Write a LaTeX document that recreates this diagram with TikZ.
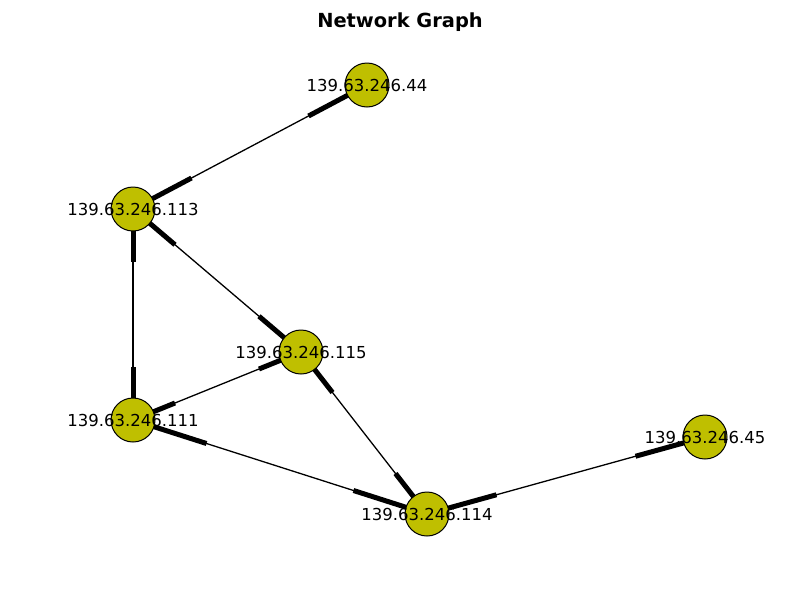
\documentclass[tikz,border=0pt]{standalone}
\usepackage{fontspec}
\setmainfont{DejaVu Sans}
\usetikzlibrary{calc,backgrounds}
\definecolor{hostfill}{RGB}{191,191,0}
\tikzset{
  host/.style={circle, draw=black, line width=1pt, fill=hostfill,
    minimum size=44pt, inner sep=0pt},
  hostlabel/.style={font=\fontsize{16.5pt}{18pt}\selectfont, inner sep=0pt},
  link/.style={draw=black, line width=1.3pt},
  linkend/.style={draw=black, line width=5pt},
}
% one undirected connection, heavy near both ends
\newcommand{\hostlink}[2]{%
  \draw[link] (#1.center) -- (#2.center);
  \draw[linkend] (#1.center) -- ($(#1.center)!0.25!(#2.center)$);
  \draw[linkend] (#2.center) -- ($(#2.center)!0.25!(#1.center)$);
}
\begin{document}
\begin{tikzpicture}[x=1pt,y=-1pt]
  \useasboundingbox (0,0) rectangle (800,600);
  \node[font=\fontsize{19.4pt}{22pt}\selectfont\bfseries] (title) at (400,22) {Network Graph};

  \node[host] (h44)  at (367,85)  {};
  \node[host] (h113) at (133,209) {};
  \node[host] (h115) at (301,352) {};
  \node[host] (h111) at (133,420) {};
  \node[host] (h114) at (427,514) {};
  \node[host] (h45)  at (705,437) {};

  \begin{scope}[on background layer]
    \hostlink{h113}{h44}
    \hostlink{h113}{h115}
    \hostlink{h113}{h111}
    \hostlink{h111}{h115}
    \hostlink{h115}{h114}
    \hostlink{h111}{h114}
    \hostlink{h114}{h45}
  \end{scope}

  \node[hostlabel] (l44)  at (h44)  {139.63.246.44};
  \node[hostlabel] (l113) at (h113) {139.63.246.113};
  \node[hostlabel] (l115) at (h115) {139.63.246.115};
  \node[hostlabel] (l111) at (h111) {139.63.246.111};
  \node[hostlabel] (l114) at (h114) {139.63.246.114};
  \node[hostlabel] (l45)  at (h45)  {139.63.246.45};
\end{tikzpicture}
\end{document}
